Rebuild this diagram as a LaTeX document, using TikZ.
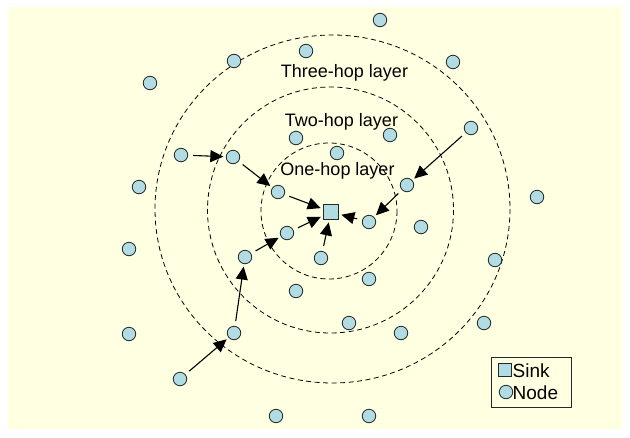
\documentclass[tikz,border=0pt]{standalone}
\usepackage{fontspec}
\setmainfont{Liberation Sans}
\usetikzlibrary{arrows.meta}
\definecolor{paper}{RGB}{255,255,226}
\definecolor{nodeblue}{RGB}{178,220,228}
\definecolor{rim}{RGB}{35,40,40}
\tikzset{
  sensor/.style={circle, draw=rim, fill=nodeblue, line width=0.8pt,
    minimum size=13.5pt, inner sep=0pt},
  sinkbox/.style={rectangle, draw=rim, fill=nodeblue, line width=0.9pt,
    minimum size=15pt, inner sep=0pt},
  layer/.style={draw=black, dash pattern=on 5pt off 3.5pt, line width=0.8pt},
  hop/.style={-{Triangle[length=13pt,width=12pt]}, line width=1.1pt,
    shorten <=5pt, shorten >=2.5pt},
  lbl/.style={font=\fontsize{18}{20}\selectfont, inner sep=0pt},
}
\begin{document}
\begin{tikzpicture}[x=1pt, y=-1pt]
\useasboundingbox (0,0) rectangle (630,437);
\fill[white] (0,0) rectangle (630,437);
\fill[paper] (8,7) rectangle (622,429);

% hop layers around the sink
\draw[layer] (332.5,209) ellipse [x radius=177.5, y radius=174];
\draw[layer] (330.5,210) circle [radius=123];
\draw[layer] (329,211) circle [radius=68];

\node[lbl, anchor=base] (t3) at (344.5,77) {Three-hop layer};
\node[lbl, anchor=base] (t2) at (341.5,126) {Two-hop layer};
\node[lbl, anchor=base] (t1) at (337.5,175.5) {One-hop layer};

% sink
\node[sinkbox] (sink) at (331,212) {};

% sensor nodes
\node[sensor] (n1) at (380,20) {};
\node[sensor] (n2) at (306,51) {};
\node[sensor] (n3) at (234,61) {};
\node[sensor] (n4) at (453,62) {};
\node[sensor] (n5) at (150,83) {};
\node[sensor] (n6) at (471,128) {};
\node[sensor] (n7) at (296,138) {};
\node[sensor] (n8) at (390,135) {};
\node[sensor] (n9) at (337,153) {};
\node[sensor] (n10) at (181,155) {};
\node[sensor] (n11) at (233,157) {};
\node[sensor] (n12) at (407,185) {};
\node[sensor] (n13) at (139,187) {};
\node[sensor] (n14) at (278,192) {};
\node[sensor] (n15) at (537,197) {};
\node[sensor] (n16) at (369,222) {};
\node[sensor] (n17) at (421,227) {};
\node[sensor] (n18) at (287,233) {};
\node[sensor] (n19) at (129,249) {};
\node[sensor] (n20) at (245,257) {};
\node[sensor] (n21) at (321,258) {};
\node[sensor] (n22) at (495,260) {};
\node[sensor] (n23) at (369,279) {};
\node[sensor] (n24) at (296,291) {};
\node[sensor] (n25) at (349,323) {};
\node[sensor] (n26) at (484,323) {};
\node[sensor] (n27) at (129,334) {};
\node[sensor] (n28) at (234,333) {};
\node[sensor] (n29) at (401,333) {};
\node[sensor] (n30) at (180,379) {};
\node[sensor] (n31) at (276,416) {};
\node[sensor] (n32) at (369,416) {};

% forwarding paths towards the sink
\draw[hop] (n10) -- (n11);
\draw[hop] (n11) -- (n14);
\draw[hop] (n14) -- (sink);
\draw[hop] (n30) -- (n28);
\draw[hop] (n28) -- (n20);
\draw[hop] (n20) -- (n18);
\draw[hop] (n18) -- (sink);
\draw[hop] (n21) -- (sink);
\draw[hop] (n6) -- (n12);
\draw[hop] (n12) -- (n16);
\draw[hop] (n16) -- (sink);

% legend
\draw[fill=paper, line width=1pt, draw=rim] (491,357) rectangle (571,407);
\node[sinkbox, minimum size=13pt] (ksink) at (505,370) {};
\node[sensor] (knode) at (506,392) {};
\node[lbl, font=\fontsize{19}{21}\selectfont, anchor=base west] (tsink) at (512.5,377.5) {Sink};
\node[lbl, font=\fontsize{19}{21}\selectfont, anchor=base west] (tnode) at (512.5,399) {Node};
\end{tikzpicture}
\end{document}
